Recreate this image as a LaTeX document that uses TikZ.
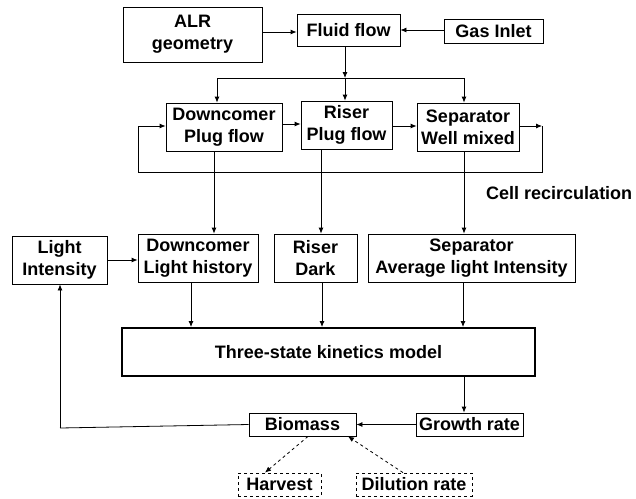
\documentclass[tikz,border=0pt]{standalone}
\usepackage{fontspec}
\setmainfont{Liberation Sans}
\usetikzlibrary{arrows.meta}
\begin{document}
\begin{tikzpicture}[x=1pt,y=-1pt,
  every node/.style={font=\fontsize{18}{22}\selectfont\bfseries},
  blk/.style={draw, line width=0.8pt, inner sep=0pt, align=center},
  dblk/.style={blk, dashed},
  conn/.style={line width=0.8pt},
  arr/.style={conn, -{Latex[length=6pt,width=5pt]}},
  darr/.style={arr, dashed}]
\useasboundingbox (0,0) rectangle (636,498);
% boxes
\node[blk, minimum width=139pt, minimum height=55pt] (alr) at (192.5,34.5) {ALR\\geometry};
\node[blk, minimum width=103pt, minimum height=32pt] (fluid) at (348.5,30) {Fluid flow};
\node[blk, minimum width=99pt, minimum height=24pt] (gas) at (493.5,31) {Gas Inlet};
\node[blk, minimum width=116pt, minimum height=48pt] (dc) at (224,127) {Downcomer\\Plug flow};
\node[blk, minimum width=91pt, minimum height=48pt] (ri) at (346.5,125) {Riser\\Plug flow};
\node[blk, minimum width=102pt, minimum height=48pt] (se) at (468,127) {Separator\\Well mixed};
\node[blk, minimum width=95pt, minimum height=48pt] (li) at (59.5,260) {Light\\Intensity};
\node[blk, minimum width=120pt, minimum height=48pt] (dlh) at (198,258) {Downcomer\\Light history};
\node[blk, minimum width=83pt, minimum height=48pt] (rd) at (315.5,258) {Riser\\Dark};
\node[blk, minimum width=207pt, minimum height=48pt] (sa) at (471.5,258) {Separator\\Average light Intensity};
\node[blk, line width=2pt, minimum width=413pt, minimum height=48pt] (three) at (328.5,352) {Three-state kinetics model};
\node[blk, minimum width=107pt, minimum height=23pt] (gr) at (469.5,424.5) {Growth rate};
\node[blk, minimum width=107pt, minimum height=23pt] (bio) at (302.5,424.5) {Biomass};
\node[dblk, minimum width=83pt, minimum height=23pt] (har) at (279.5,484.5) {Harvest};
\node[dblk, minimum width=116pt, minimum height=23pt] (dil) at (414,484.5) {Dilution rate};
\node[anchor=west, inner sep=0pt] (cell) at (486,193) {Cell recirculation};
% coordinates
\coordinate (br) at (345,78);
\coordinate (bl) at (217,78);
\coordinate (brr) at (464,78);
\coordinate (rr) at (542,126);
\coordinate (rb) at (542,172);
\coordinate (lb) at (138,172);
\coordinate (lt) at (138,126);
\coordinate (bc) at (60,428);
% connectors
\draw[arr] (alr.east |- 0,32) -- (fluid.west |- 0,32);
\draw[arr] (gas.west |- 0,30) -- (fluid.east |- 0,30);
\draw[arr] (fluid.south -| br) -- (br);
\draw[conn] (bl) -- (brr);
\draw[arr] (bl) -- (dc.north -| bl);
\draw[arr] (br) -- (ri.north -| br);
\draw[arr] (brr) -- (se.north -| brr);
\draw[arr] (dc.east |- 0,124) -- (ri.west |- 0,124);
\draw[arr] (ri.east |- 0,126) -- (se.west |- 0,126);
\draw[arr] (se.east |- rr) -- (rr);
\draw[conn] (rr) -- (rb) -- (lb) -- (lt);
\draw[arr] (lt) -- (dc.west |- lt);
\draw[arr] (dc.south -| 214,0) -- (dlh.north -| 214,0);
\draw[arr] (ri.south -| 321,0) -- (rd.north -| 321,0);
\draw[arr] (se.south -| 464,0) -- (sa.north -| 464,0);
\draw[arr] (li.east |- 0,260) -- (dlh.west |- 0,260);
\draw[arr] (dlh.south -| 191,0) -- (three.north -| 191,0);
\draw[arr] (rd.south -| 322,0) -- (three.north -| 322,0);
\draw[arr] (sa.south -| 463,0) -- (three.north -| 463,0);
\draw[arr] (three.south -| 464,0) -- (gr.north -| 464,0);
\draw[arr] (gr.west) -- (bio.east);
\draw[conn] (bio.west) -- (bc);
\draw[arr] (bc) -- (li.south -| bc);
\draw[darr] (bio.south -| 308,0) -- (har.north -| 265,0);
\draw[darr] (dil.north -| 403,0) -- (bio.south -| 348,0);
\end{tikzpicture}
\end{document}
